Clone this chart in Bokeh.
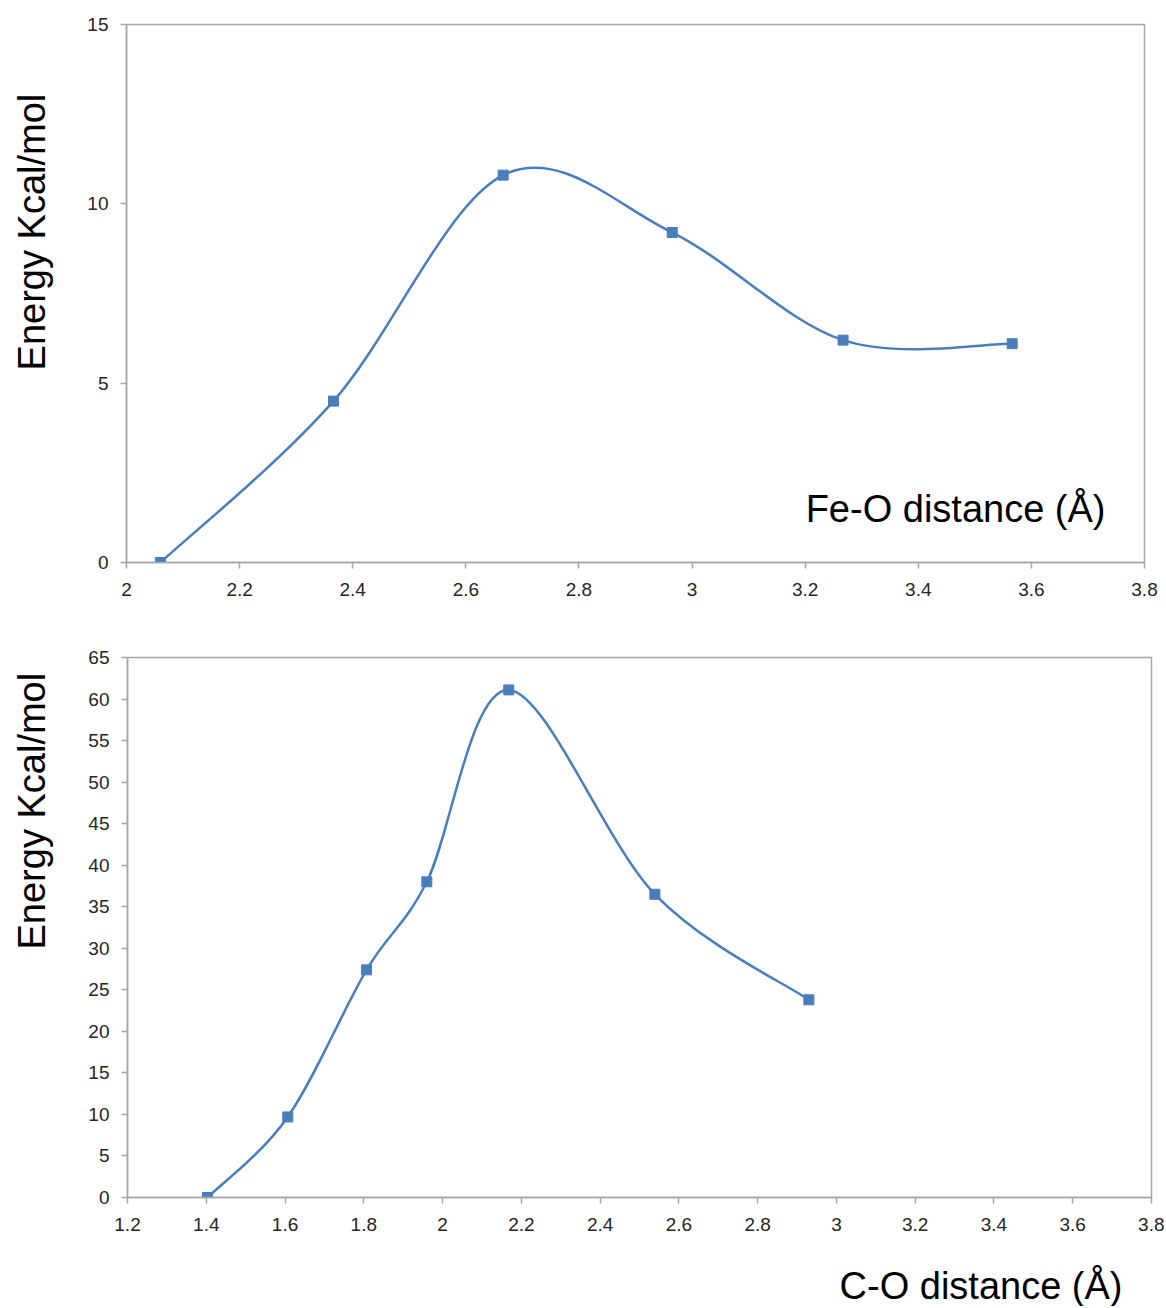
import math
from bokeh.plotting import figure
from bokeh.layouts import column, row
from bokeh.models import Range1d, FixedTicker, Label, ColumnDataSource
from bokeh.embed import file_html
from bokeh.resources import INLINE

# ---- data ----
fe_o_dist = [2.06, 2.366, 2.666, 2.965, 3.267, 3.566]
fe_o_energy = [0.0, 4.5, 10.8, 9.2, 6.2, 6.1]

c_o_dist = [1.403, 1.607, 1.807, 1.960, 2.168, 2.539, 2.930]
c_o_energy = [0.0, 9.7, 27.4, 38.0, 61.1, 36.5, 23.8]

top_xticks = [2.0, 2.2, 2.4, 2.6, 2.8, 3.0, 3.2, 3.4, 3.6, 3.8]
top_xlabels = ["2", "2.2", "2.4", "2.6", "2.8", "3", "3.2", "3.4", "3.6", "3.8"]
top_yticks = [0, 5, 10, 15]

bot_xticks = [1.2, 1.4, 1.6, 1.8, 2.0, 2.2, 2.4, 2.6, 2.8, 3.0, 3.2, 3.4, 3.6, 3.8]
bot_xlabels = ["1.2", "1.4", "1.6", "1.8", "2", "2.2", "2.4", "2.6", "2.8", "3", "3.2", "3.4", "3.6", "3.8"]
bot_yticks = list(range(0, 70, 5))

y_title = "Energy Kcal/mol"
top_x_title = "Fe-O distance (Å)"
bot_x_title = "C-O distance (Å)"

BLUE = "#4a7ebb"
GRAY = "#a6a6a6"
FONT = "Liberation Sans"
BIG = "38px"
LAB_W = 60
TOTAL_W = 1164


def smooth_segments(xs, ys):
    """Excel-like smoothing: cubic Bezier control points from neighbours."""
    n = len(xs)
    d = dict(x0=[], y0=[], x1=[], y1=[], cx0=[], cy0=[], cx1=[], cy1=[])
    for i in range(n - 1):
        xp, yp = (xs[i - 1], ys[i - 1]) if i > 0 else (xs[i], ys[i])
        xn, yn = (xs[i + 2], ys[i + 2]) if i + 2 < n else (xs[i + 1], ys[i + 1])
        d["x0"].append(xs[i]); d["y0"].append(ys[i])
        d["x1"].append(xs[i + 1]); d["y1"].append(ys[i + 1])
        d["cx0"].append(xs[i] + (xs[i + 1] - xp) / 6.0)
        d["cy0"].append(ys[i] + (ys[i + 1] - yp) / 6.0)
        d["cx1"].append(xs[i + 1] - (xn - xs[i]) / 6.0)
        d["cy1"].append(ys[i + 1] - (yn - ys[i]) / 6.0)
    return ColumnDataSource(d)


def make_fig(width, height, xr, yr, xticks, xlabels, yticks, border_top, border_bottom,
             border_left, border_right):
    p = figure(width=width, height=height, x_range=Range1d(*xr), y_range=Range1d(*yr),
               output_backend="svg", toolbar_location=None,
               min_border_top=border_top, min_border_bottom=border_bottom,
               min_border_left=border_left, min_border_right=border_right)
    p.grid.visible = False
    p.outline_line_color = GRAY
    p.outline_line_width = 1.5
    p.background_fill_color = "white"
    p.border_fill_color = "white"
    for ax in (p.xaxis[0], p.yaxis[0]):
        ax.axis_line_color = GRAY
        ax.axis_line_width = 1.5
        ax.major_tick_line_color = GRAY
        ax.major_tick_line_width = 1.5
        ax.major_tick_in = 0
        ax.major_tick_out = 6
        ax.minor_tick_line_color = None
        ax.major_label_text_font = FONT
        ax.major_label_text_font_size = "19px"
        ax.major_label_text_color = "#262626"
    p.xaxis[0].ticker = FixedTicker(ticks=xticks)
    p.xaxis[0].major_label_overrides = {t: l for t, l in zip(xticks, xlabels)}
    p.xaxis[0].major_label_standoff = 14
    p.yaxis[0].ticker = FixedTicker(ticks=yticks)
    p.yaxis[0].major_label_standoff = 12
    return p


def text_fig(width, height):
    f = figure(width=width, height=height, x_range=Range1d(0, width),
               y_range=Range1d(0, height), x_axis_type=None, y_axis_type=None,
               output_backend="svg", toolbar_location=None,
               min_border=0, min_border_left=0, min_border_right=0,
               min_border_top=0, min_border_bottom=0)
    f.grid.visible = False
    f.outline_line_color = None
    f.background_fill_color = "white"
    f.border_fill_color = "white"
    return f


def draw_series(p, xs, ys):
    src = smooth_segments(xs, ys)
    p.bezier(x0="x0", y0="y0", x1="x1", y1="y1", cx0="cx0", cy0="cy0",
             cx1="cx1", cy1="cy1", source=src, line_color=BLUE, line_width=2.5)
    p.scatter(xs, ys, marker="square", size=10, fill_color=BLUE, line_color=BLUE)


PW = TOTAL_W - LAB_W

# ---- top chart (page y 0..622, frame 24..562, x 126..1144) ----
H1 = 622
p1 = make_fig(PW, H1, (2.0, 3.8), (0, 15), top_xticks, top_xlabels, top_yticks,
              24, H1 - 562, 126 - LAB_W, TOTAL_W - 1144)
draw_series(p1, fe_o_dist, fe_o_energy)
p1.add_layout(Label(x=1105 - 126, y=54, x_units="screen", y_units="screen",
                    text=top_x_title, text_align="right", text_baseline="alphabetic",
                    text_font=FONT, text_font_size=BIG, text_color="black"))
lab1 = text_fig(LAB_W, H1)
lab1.add_layout(Label(x=31, y=H1 - 240, text=y_title, angle=math.pi / 2,
                      text_align="center", text_baseline="alphabetic",
                      text_font=FONT, text_font_size=BIG, text_color="black"))

# ---- bottom chart (page y 622..1244, frame 657..1197, x 127..1151) ----
H2 = 622
p2 = make_fig(PW, H2, (1.2, 3.8), (0, 65), bot_xticks, bot_xlabels, bot_yticks,
              657 - H1, H1 + H2 - 1197, 127 - LAB_W, TOTAL_W - 1151)
draw_series(p2, c_o_dist, c_o_energy)
lab2 = text_fig(LAB_W, H2)
lab2.add_layout(Label(x=31, y=H1 + H2 - 799, text=y_title, angle=math.pi / 2,
                      text_align="center", text_baseline="alphabetic",
                      text_font=FONT, text_font_size=BIG, text_color="black"))

H3 = 62
lab3 = text_fig(TOTAL_W, H3)
lab3.add_layout(Label(x=1122, y=21, text=bot_x_title,
                      text_align="right", text_baseline="alphabetic",
                      text_font=FONT, text_font_size=BIG, text_color="black"))

layout = column(row(lab1, p1, spacing=0), row(lab2, p2, spacing=0), lab3, spacing=0)
open("out.html", "w").write(file_html(layout, INLINE))
